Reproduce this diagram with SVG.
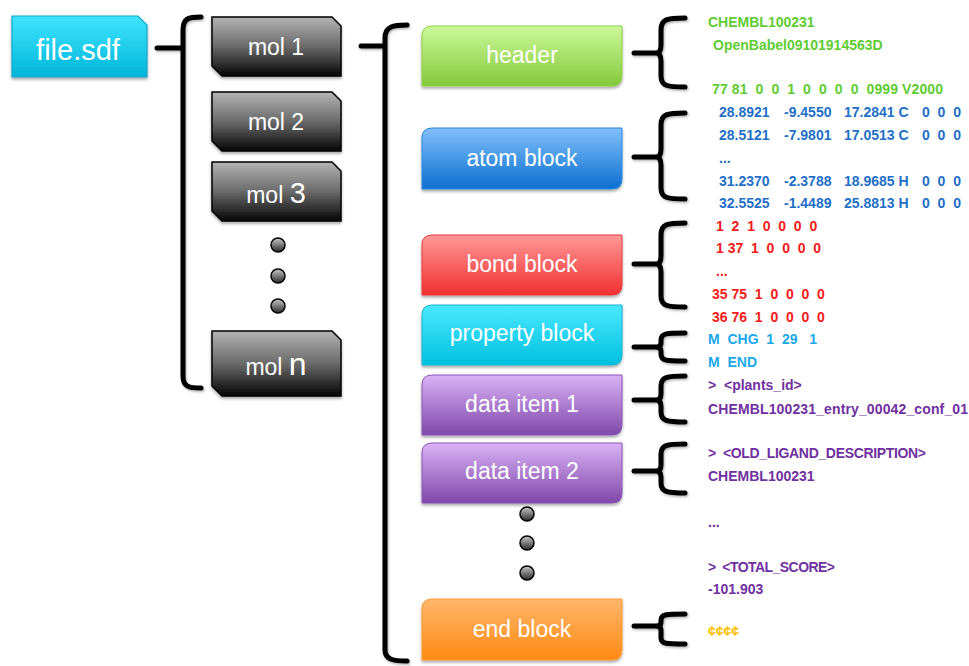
<svg xmlns="http://www.w3.org/2000/svg" width="969" height="666" viewBox="0 0 969 666">
  <style>
    .lbl { font-family: "Liberation Sans", Arial, sans-serif; fill: #ffffff; text-anchor: middle; }
    .blk { font-size: 23px; }
    .mol { font-size: 23px; }
    .code { font-family: "Liberation Sans", Arial, sans-serif; font-weight: bold; font-size: 14px; white-space: pre; }
    .green { fill: #5fcc32; }
    .blue { fill: #1f6fc6; }
    .red { fill: #f41a1a; }
    .cyan { fill: #1aa8ea; }
    .purple { fill: #7030a0; }
    .gold { fill: #ffc000; }
    .brace { fill: none; stroke: #000; stroke-width: 5; stroke-linecap: round; stroke-linejoin: round; }
    .molbox { stroke: #000; stroke-width: 1.5; fill: url(#gMol); }
    .dot { fill: url(#gDot); stroke: #000; stroke-width: 1.5; }
  </style>
  <defs>
    <filter id="shadow" x="-10%" y="-10%" width="120%" height="130%">
      <feDropShadow dx="0" dy="2" stdDeviation="1.6" flood-color="#000" flood-opacity="0.35"/>
    </filter>
    <filter id="bshadow" x="-20%" y="-5%" width="150%" height="110%">
      <feDropShadow dx="1" dy="1.5" stdDeviation="1.2" flood-color="#000" flood-opacity="0.3"/>
    </filter>
    <linearGradient id="gFile" x1="0" y1="0" x2="0" y2="1">
      <stop offset="0" stop-color="#40e4ff"/>
      <stop offset="1" stop-color="#00b6d9"/>
    </linearGradient>
    <linearGradient id="gMol" x1="0" y1="0" x2="0" y2="1">
      <stop offset="0" stop-color="#b4b4b4"/>
      <stop offset="0.5" stop-color="#6a6a6a"/>
      <stop offset="1" stop-color="#050505"/>
    </linearGradient>
    <linearGradient id="gDot" x1="0" y1="0" x2="0" y2="1">
      <stop offset="0" stop-color="#c8c8c8"/>
      <stop offset="1" stop-color="#2a2a2a"/>
    </linearGradient>
    <linearGradient id="gGreen" x1="0" y1="0" x2="0" y2="1">
      <stop offset="0" stop-color="#cbf99a"/>
      <stop offset="1" stop-color="#84c83a"/>
    </linearGradient>
    <linearGradient id="gBlue" x1="0" y1="0" x2="0" y2="1">
      <stop offset="0" stop-color="#82c0fb"/>
      <stop offset="1" stop-color="#0a6fd0"/>
    </linearGradient>
    <linearGradient id="gRed" x1="0" y1="0" x2="0" y2="1">
      <stop offset="0" stop-color="#ff9898"/>
      <stop offset="1" stop-color="#f22f2f"/>
    </linearGradient>
    <linearGradient id="gCyan" x1="0" y1="0" x2="0" y2="1">
      <stop offset="0" stop-color="#4ae9ff"/>
      <stop offset="1" stop-color="#00c0df"/>
    </linearGradient>
    <linearGradient id="gPurple" x1="0" y1="0" x2="0" y2="1">
      <stop offset="0" stop-color="#dab2f6"/>
      <stop offset="1" stop-color="#7e48a9"/>
    </linearGradient>
    <linearGradient id="gOrange" x1="0" y1="0" x2="0" y2="1">
      <stop offset="0" stop-color="#ffb66c"/>
      <stop offset="1" stop-color="#ff8912"/>
    </linearGradient>
  </defs>

  <rect width="969" height="666" fill="#ffffff"/>

  <!-- file node -->
  <g id="file">
    <path d="M12,16 H138 L147,25 V77 H12 Z" fill="url(#gFile)" stroke="#18a8c9" stroke-width="1.2" filter="url(#shadow)"/>
    <text class="lbl" x="78" y="60" font-size="29">file.sdf</text>
  </g>

  <!-- molecule nodes -->
  <g id="mol1">
    <path class="molbox" d="M212,17 H332 L341,26 V76 H222 L212,66 Z" filter="url(#shadow)"/>
    <text class="lbl mol" x="276" y="55">mol 1</text>
  </g>
  <g id="mol2">
    <path class="molbox" d="M212,92 H332 L341,101 V151 H222 L212,141 Z" filter="url(#shadow)"/>
    <text class="lbl mol" x="276" y="130">mol 2</text>
  </g>
  <g id="mol3">
    <path class="molbox" d="M212,162 H332 L341,171 V221 H222 L212,211 Z" filter="url(#shadow)"/>
    <text class="lbl mol" x="276" y="203">mol <tspan font-size="29">3</tspan></text>
  </g>
  <g id="mol-dots">
    <circle class="dot" cx="278" cy="245" r="7"/>
    <circle class="dot" cx="278" cy="276" r="7"/>
    <circle class="dot" cx="278" cy="306" r="7"/>
  </g>
  <g id="moln">
    <path class="molbox" d="M212,331 H332 L341,340 V396 H222 L212,386 Z" filter="url(#shadow)"/>
    <text class="lbl mol" x="276" y="375">mol <tspan font-size="32">n</tspan></text>
  </g>

  <!-- record section nodes -->
  <g id="header">
    <path d="M432,26 H622 V76 Q622,86 612,86 H422 V36 Q422,26 432,26 Z" fill="url(#gGreen)" stroke="#8fcf48" stroke-width="1" filter="url(#shadow)"/>
    <text class="lbl blk" x="522" y="63">header</text>
  </g>
  <g id="atom-block">
    <path d="M432,128 H622 V179 Q622,189 612,189 H422 V138 Q422,128 432,128 Z" fill="url(#gBlue)" stroke="#2a86da" stroke-width="1" filter="url(#shadow)"/>
    <text class="lbl blk" x="522" y="166">atom block</text>
  </g>
  <g id="bond-block">
    <path d="M432,235 H622 V285 Q622,295 612,295 H422 V245 Q422,235 432,235 Z" fill="url(#gRed)" stroke="#e83c3c" stroke-width="1" filter="url(#shadow)"/>
    <text class="lbl blk" x="522" y="272">bond block</text>
  </g>
  <g id="property-block">
    <path d="M432,305 H622 V355 Q622,365 612,365 H422 V315 Q422,305 432,305 Z" fill="url(#gCyan)" stroke="#1ab2d0" stroke-width="1" filter="url(#shadow)"/>
    <text class="lbl blk" x="522" y="341">property block</text>
  </g>
  <g id="data-item-1">
    <path d="M432,375 H622 V425 Q622,435 612,435 H422 V385 Q422,375 432,375 Z" fill="url(#gPurple)" stroke="#8a56b6" stroke-width="1" filter="url(#shadow)"/>
    <text class="lbl blk" x="522" y="412">data item 1</text>
  </g>
  <g id="data-item-2">
    <path d="M432,443 H622 V493 Q622,503 612,503 H422 V453 Q422,443 432,443 Z" fill="url(#gPurple)" stroke="#8a56b6" stroke-width="1" filter="url(#shadow)"/>
    <text class="lbl blk" x="522" y="479">data item 2</text>
  </g>
  <g id="data-dots">
    <circle class="dot" cx="527" cy="514" r="7"/>
    <circle class="dot" cx="527" cy="543" r="7"/>
    <circle class="dot" cx="527" cy="573" r="7"/>
  </g>
  <g id="end-block">
    <path d="M432,599 H622 V650 Q622,660 612,660 H422 V609 Q422,599 432,599 Z" fill="url(#gOrange)" stroke="#ff9a32" stroke-width="1" filter="url(#shadow)"/>
    <text class="lbl blk" x="522" y="637">end block</text>
  </g>

  <!-- connectors: braces -->
  <g id="connectors" filter="url(#bshadow)">
    <path class="brace" d="M157,48 H181"/>
    <path class="brace" d="M201,17 C189,17 183,18 183,30 V376 C183,387 189,388 201,388"/>
    <path class="brace" d="M361,46 H383"/>
    <path class="brace" d="M407,25 C394,25 385,26 385,38 V650 C385,660 394,661 407,661"/>

    <path class="brace" d="M634,53 H656 M685,18 C667,18 661,19 661,30 V45 C661,51 659,53 656,53 C659,53 661,55 661,61 V76 C661,86 667,87 685,87"/>
    <path class="brace" d="M634,157 H656 M685,113 C667,113 661,114 661,125 V149 C661,155 659,157 656,157 C659,157 661,159 661,165 V188 C661,198 667,199 685,199"/>
    <path class="brace" d="M634,264 H656 M685,223 C667,223 661,224 661,235 V256 C661,262 659,264 656,264 C659,264 661,266 661,272 V296 C661,306 667,307 685,307"/>
    <path class="brace" d="M634,347 H656 M685,333 C667,333 661,333 661,340 V343 C661,346 659,347 656,347 C659,347 661,348 661,351 V354 C661,361 667,361 685,361"/>
    <path class="brace" d="M634,400 H656 M685,376 C667,376 661,377 661,386 V394 C661,398 659,400 656,400 C659,400 661,402 661,406 V412 C661,421 667,422 685,422"/>
    <path class="brace" d="M634,471 H656 M685,444 C667,444 661,445 661,454 V465 C661,469 659,471 656,471 C659,471 661,473 661,477 V483 C661,492 667,493 685,493"/>
    <path class="brace" d="M634,626 H656 M685,614 C667,614 661,614 661,620 V622 C661,625 659,626 656,626 C659,626 661,627 661,630 V638 C661,644 667,644 685,644"/>
  </g>

  <!-- record text -->
  <g id="header-text">
    <text class="code green" x="708" y="27">CHEMBL100231</text>
    <text class="code green" x="713" y="50">OpenBabel09101914563D</text>
    <text class="code green" x="712" y="94" textLength="231">77 81  0  0  1  0  0  0  0  0999 V2000</text>
  </g>
  <g id="atom-text">
    <text class="code blue" y="117"><tspan x="719">28.8921</tspan><tspan x="784">-9.4550</tspan><tspan x="844">17.2841 C</tspan><tspan x="922">0  0  0</tspan></text>
    <text class="code blue" y="140"><tspan x="719">28.5121</tspan><tspan x="784">-7.9801</tspan><tspan x="844">17.0513 C</tspan><tspan x="922">0  0  0</tspan></text>
    <text class="code blue" x="719" y="163">...</text>
    <text class="code blue" y="186"><tspan x="719">31.2370</tspan><tspan x="784">-2.3788</tspan><tspan x="844">18.9685 H</tspan><tspan x="922">0  0  0</tspan></text>
    <text class="code blue" y="208"><tspan x="719">32.5525</tspan><tspan x="784">-1.4489</tspan><tspan x="844">25.8813 H</tspan><tspan x="922">0  0  0</tspan></text>
  </g>
  <g id="bond-text">
    <text class="code red" x="716" y="231">1  2  1  0  0  0  0</text>
    <text class="code red" x="716" y="253">1 37  1  0  0  0  0</text>
    <text class="code red" x="716" y="276">...</text>
    <text class="code red" x="712" y="299">35 75  1  0  0  0  0</text>
    <text class="code red" x="712" y="322">36 76  1  0  0  0  0</text>
  </g>
  <g id="property-text">
    <text class="code cyan" x="708" y="344">M  CHG  1  29   1</text>
    <text class="code cyan" x="708" y="367">M  END</text>
  </g>
  <g id="data-text">
    <text class="code purple" x="708" y="390">&gt;  &lt;plants_id&gt;</text>
    <text class="code purple" x="708" y="414" textLength="260">CHEMBL100231_entry_00042_conf_01</text>
    <text class="code purple" x="708" y="458" textLength="218">&gt;  &lt;OLD_LIGAND_DESCRIPTION&gt;</text>
    <text class="code purple" x="708" y="481">CHEMBL100231</text>
    <text class="code purple" x="708" y="527">...</text>
    <text class="code purple" x="708" y="572" textLength="127">&gt;  &lt;TOTAL_SCORE&gt;</text>
    <text class="code purple" x="708" y="594">-101.903</text>
  </g>
  <g id="end-text">
    <text class="code gold" x="708" y="636" font-size="11">¢¢¢¢</text>
  </g>
</svg>
